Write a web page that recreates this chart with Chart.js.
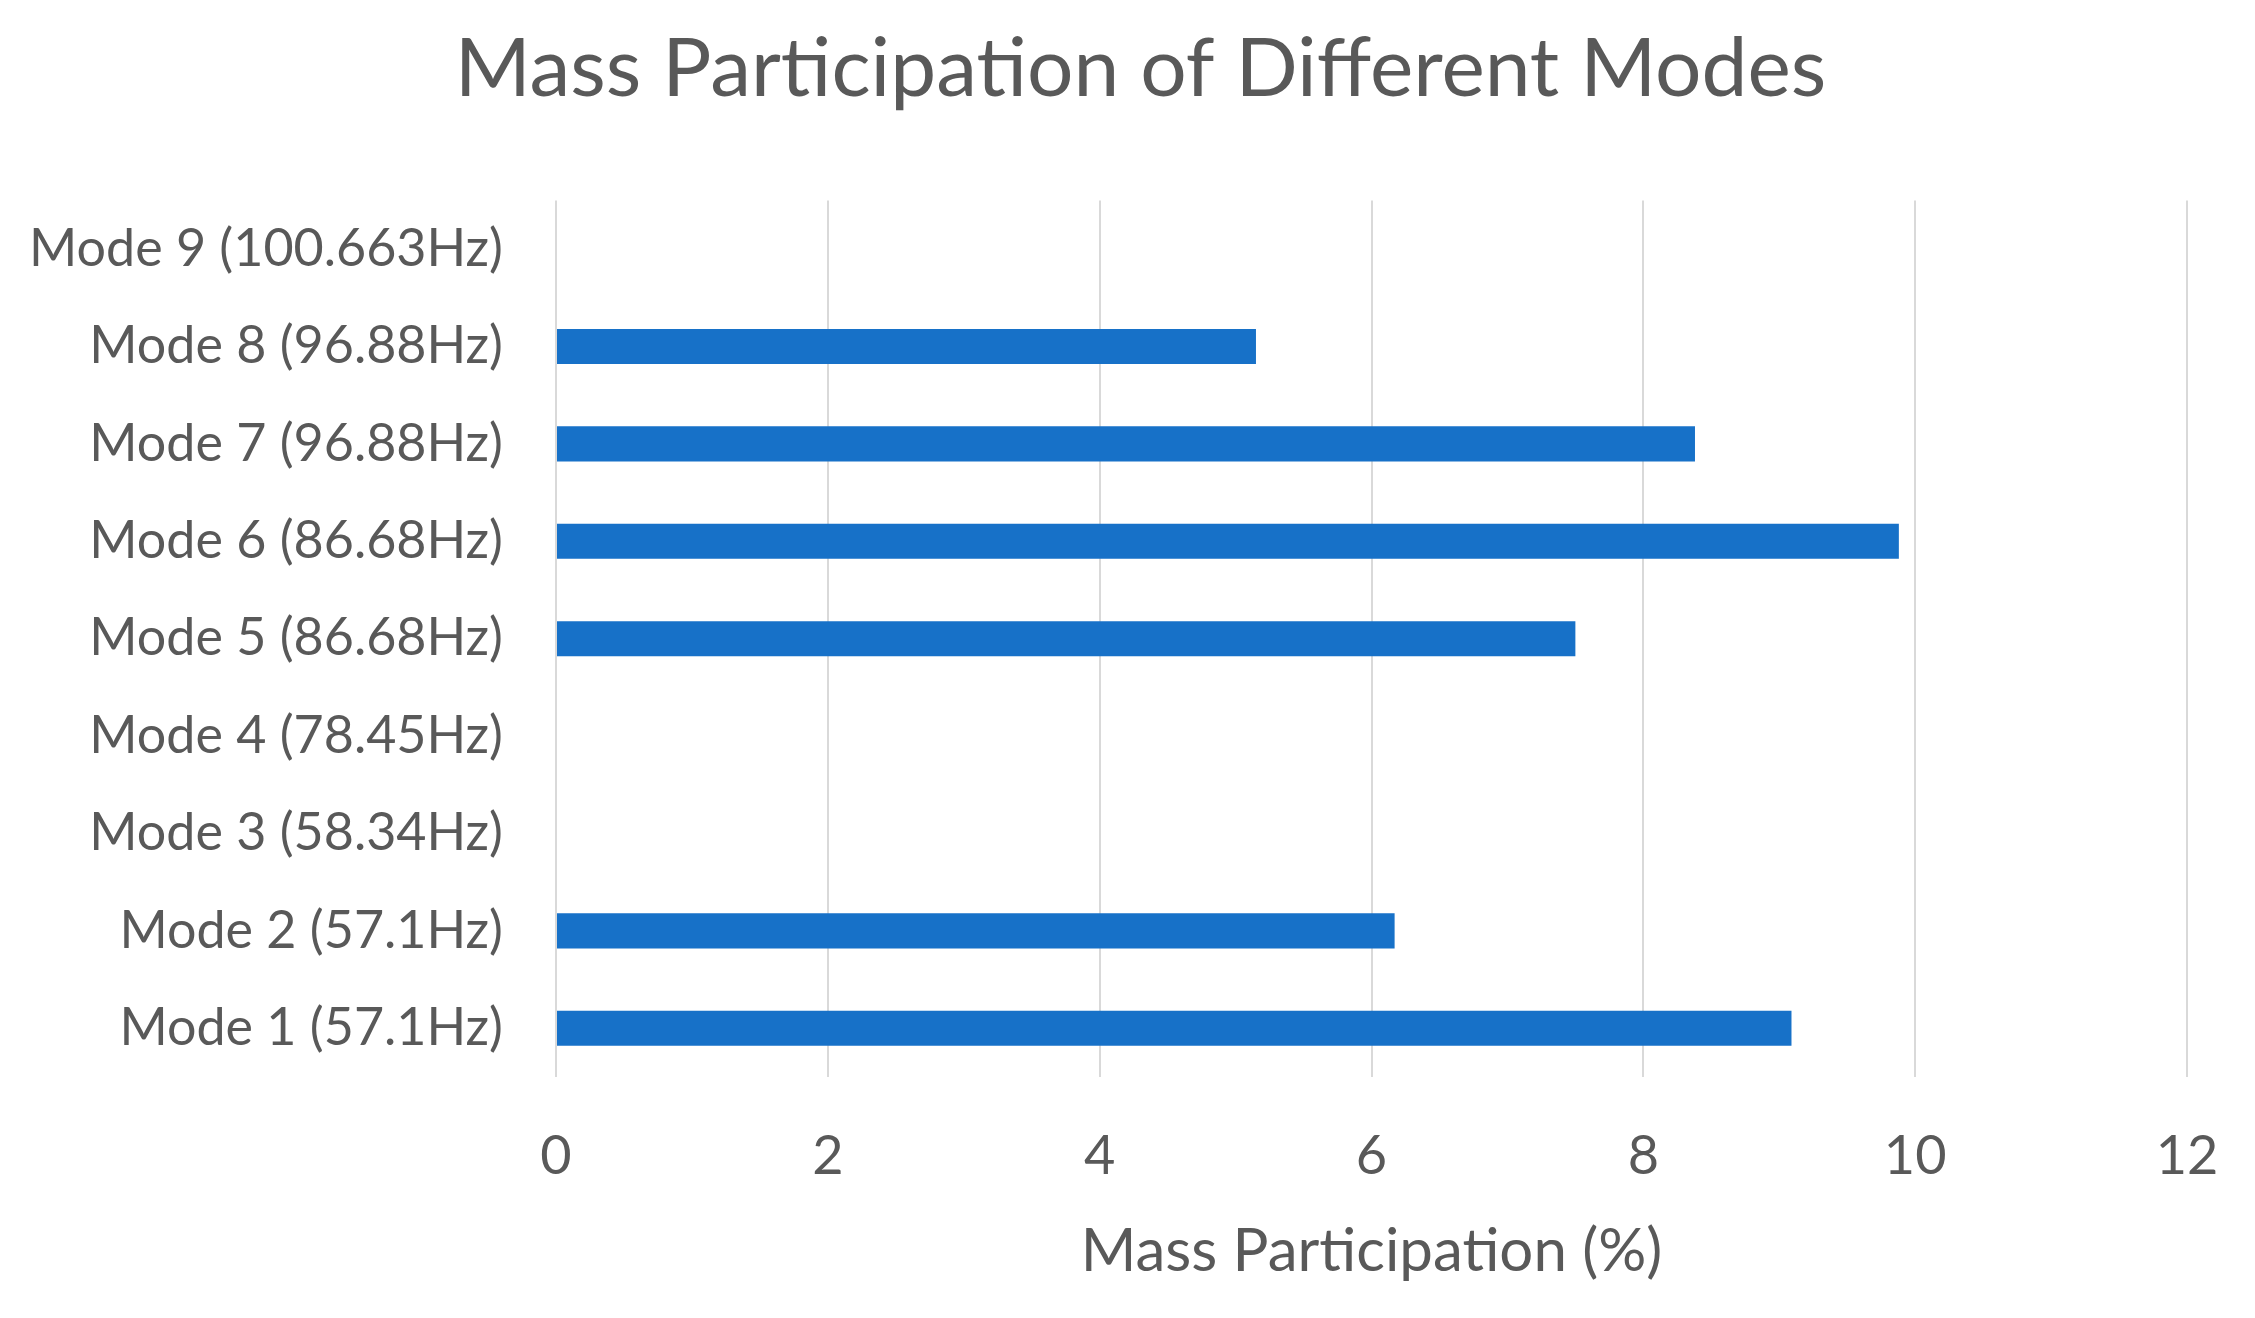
<!DOCTYPE html>
<html>
<head>
<meta charset="utf-8">
<script src="https://cdn.jsdelivr.net/npm/chart.js@4.4.1/dist/chart.umd.min.js"></script>
<style>
  html, body { margin: 0; padding: 0; background: #ffffff; }
  #wrap { width: 2255px; height: 1318px; }
</style>
</head>
<body>
<div id="wrap"><canvas id="myChart"></canvas></div>
<script>
// Categories listed top to bottom as they appear on the chart
const modeLabels = [
  "Mode 9 (100.663Hz)",
  "Mode 8 (96.88Hz)",
  "Mode 7 (96.88Hz)",
  "Mode 6 (86.68Hz)",
  "Mode 5 (86.68Hz)",
  "Mode 4 (78.45Hz)",
  "Mode 3 (58.34Hz)",
  "Mode 2 (57.1Hz)",
  "Mode 1 (57.1Hz)",
];
// Mass participation (%)
const massValues = [0, 5.15, 8.38, 9.88, 7.5, 0, 0, 6.17, 9.09];
const xTicks = [0, 2, 4, 6, 8, 10, 12];

const textColor = "#595959";
const fontFamily = "Lato, 'Open Sans', sans-serif";

// the original title sits a little right of the canvas centre
const shiftTitle = {
  id: "shiftTitle",
  afterLayout(chart) {
    const t = chart.titleBlock;
    if (t) {
      t.left += 47;
      t.right += 47;
    }
  },
};

const data = {
  labels: modeLabels,
  datasets: [
    {
      label: "Mass Participation (%)",
      data: massValues,
      backgroundColor: "#1771c8",
      borderWidth: 0,
      categoryPercentage: 1.0,
      barPercentage: 0.36,
    },
  ],
};

const config = {
  type: "bar",
  data,
  plugins: [shiftTitle],
  options: {
    indexAxis: "y",
    responsive: true,
    maintainAspectRatio: false,
    animation: false,
    layout: {
      padding: { left: 0, right: 68, top: 0, bottom: 30 },
    },
    plugins: {
      legend: { display: false },
      tooltip: { enabled: false },
      title: {
        display: true,
        text: "Mass Participation of Different Modes",
        color: textColor,
        font: { size: 82, family: fontFamily, weight: "normal" },
        padding: { top: 20, bottom: 82 },
      },
    },
    scales: {
      x: {
        min: 0,
        max: 12,
        afterBuildTicks: (scale) => {
          scale.ticks = xTicks.map((v) => ({ value: v }));
        },
        afterFit: (scale) => {
          scale.height = 211;
          // let the "12" label hang into the layout padding
          scale.paddingRight = 0;
          scale.paddingLeft = 0;
        },
        grid: {
          display: true,
          color: "#d9d9d9",
          lineWidth: 2,
          drawTicks: false,
        },
        border: { display: false },
        ticks: {
          color: textColor,
          padding: 47,
          font: { size: 54, family: fontFamily },
        },
        title: {
          display: true,
          text: "Mass Participation (%)",
          color: textColor,
          padding: { top: 0, bottom: 0 },
          font: { size: 60, family: fontFamily },
        },
      },
      y: {
        grid: { display: false, drawTicks: false },
        border: { display: false },
        afterFit: (scale) => {
          scale.width = 556;
        },
        ticks: {
          color: textColor,
          padding: 53,
          font: { size: 52, family: fontFamily },
        },
      },
    },
  },
};

window.myChart = new Chart(document.getElementById("myChart"), config);
</script>
</body>
</html>
